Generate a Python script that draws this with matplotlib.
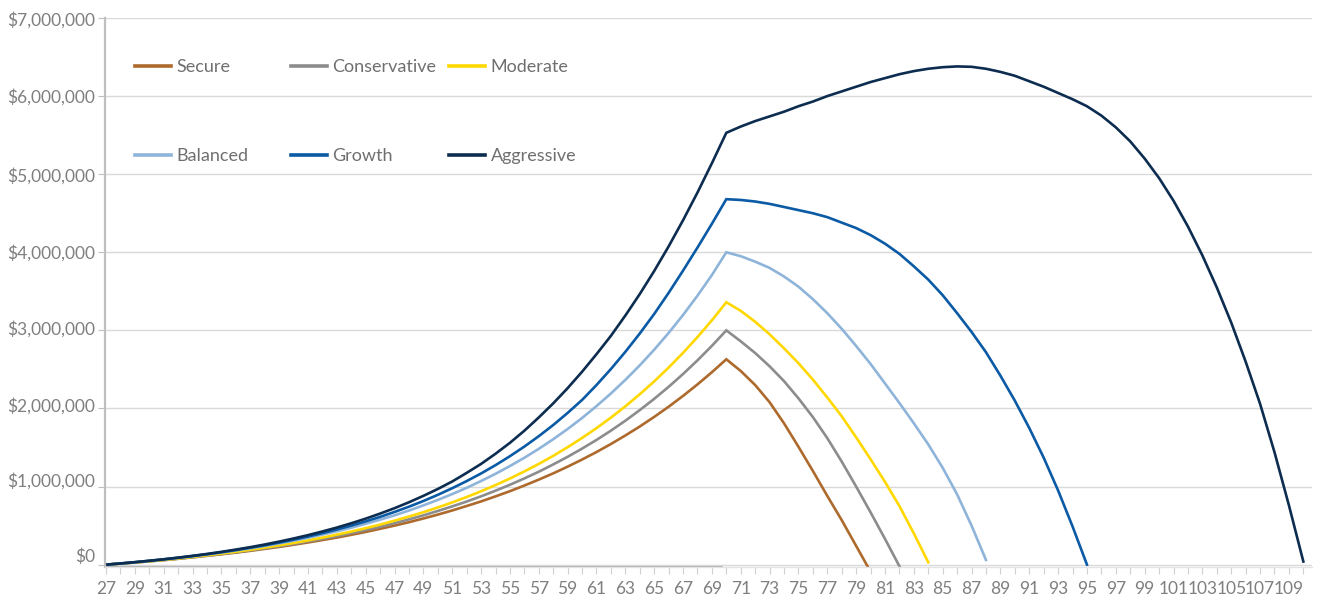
import matplotlib
matplotlib.use("Agg")
import matplotlib.pyplot as plt
from matplotlib.ticker import FuncFormatter
from matplotlib.legend import Legend
from matplotlib.transforms import ScaledTranslation
import numpy as np

plt.rcParams['font.family'] = ['Lato', 'DejaVu Sans']

# ages on the category axis
ages = list(range(27, 111))
retire_age = 70

# portfolio value by age, in $ thousands (series stop once money runs out)
secure = [0, 13, 27, 43, 58, 75, 93, 113, 133, 154, 177, 202, 227, 255, 284, 315,
          347, 382, 419, 459, 500, 544, 591, 641, 694, 751, 810, 874, 941, 1013,
          1089, 1169, 1255, 1346, 1442, 1545, 1654, 1769, 1892, 2022, 2161, 2308,
          2464, 2630,
          2480, 2300, 2080, 1810, 1510, 1200, 880, 570, 240, -90]
conservative = [0, 14, 28, 43, 60, 77, 96, 116, 137, 159, 183, 209, 236, 265, 297,
                330, 365, 403, 443, 485, 531, 580, 631, 687, 746, 808, 875, 947,
                1023, 1104, 1190, 1283, 1381, 1486, 1597, 1716, 1843, 1979, 2123,
                2277, 2441, 2616, 2802, 3000,
                2860, 2710, 2540, 2350, 2130, 1890, 1620, 1320, 1000, 670, 330, -20]
moderate = [0, 14, 29, 44, 61, 79, 99, 120, 142, 165, 191, 218, 247, 277, 310, 346,
            384, 424, 467, 513, 563, 616, 672, 732, 797, 866, 940, 1019, 1103,
            1194, 1290, 1393, 1504, 1622, 1748, 1883, 2027, 2182, 2347, 2523, 2712,
            2914, 3129, 3360,
            3250, 3110, 2950, 2770, 2580, 2370, 2140, 1900, 1630, 1350, 1060, 750,
            400, 30]
balanced = [0, 15, 31, 48, 67, 87, 108, 131, 155, 182, 210, 240, 273, 307, 345, 385,
            427, 473, 523, 576, 632, 693, 759, 829, 904, 984, 1071, 1163, 1263, 1369,
            1483, 1606, 1737, 1878, 2030, 2192, 2366, 2552, 2752, 2967, 3197, 3444,
            3709, 4000,
            3950, 3880, 3800, 3690, 3560, 3400, 3220, 3020, 2800, 2570, 2320, 2070,
            1810, 1540, 1240, 900, 500, 60]
growth = [0, 15, 31, 49, 68, 88, 110, 134, 159, 187, 217, 248, 283, 320, 360, 403,
          450, 500, 554, 612, 675, 742, 815, 894, 979, 1070, 1168, 1274, 1389, 1512,
          1645, 1788, 1943, 2109, 2300, 2505, 2725, 2960, 3210, 3480, 3765, 4060,
          4365, 4680,
          4670, 4650, 4620, 4580, 4540, 4500, 4450, 4380, 4310, 4220, 4110, 3980,
          3820, 3650, 3450, 3220, 2980, 2720, 2420, 2100, 1750, 1370, 950, 490, 0]
aggressive = [0, 15, 32, 50, 69, 90, 113, 137, 164, 193, 224, 258, 295, 335, 378,
              425, 475, 530, 589, 654, 723, 799, 881, 969, 1065, 1175, 1290, 1420,
              1560, 1715, 1885, 2065, 2260, 2470, 2695, 2930, 3190, 3465, 3760, 4075,
              4410, 4765, 5140, 5530,
              5610, 5680, 5740, 5800, 5870, 5930, 6000, 6060, 6120, 6180, 6230, 6280,
              6320, 6350, 6370, 6380, 6375, 6350, 6310, 6260, 6190, 6120, 6040, 5960,
              5870, 5750, 5600, 5420, 5200, 4950, 4660, 4330, 3960, 3550, 3100, 2600,
              2060, 1440, 760, 40]

names = ['Secure', 'Conservative', 'Moderate', 'Balanced', 'Growth', 'Aggressive']
series = [secure, conservative, moderate, balanced, growth, aggressive]
colors = ['#ad6a2c', '#8c8c8c', '#ffd800', '#8fb4da', '#0a5aa5', '#0c2c50']

fig = plt.figure(figsize=(13.22, 5.96), dpi=100)
ax = fig.add_axes([105 / 1322, 1 - 567 / 596, 1207 / 1322, 549 / 596])

lines = {}
for name, vals, col in zip(names, series, colors):
    v = np.array(vals) * 1000.0
    ln, = ax.plot(ages[:len(v)], v, color=col, lw=1.9, solid_joinstyle='miter')
    lines[name] = ln

x0, x1 = 26.93, 110.6
y0 = -30000
ax.set_xlim(x0, x1)
ax.set_ylim(y0, 7000000)

# y axis
ax.set_yticks(np.arange(0, 7000001, 1000000))
ax.yaxis.set_major_formatter(FuncFormatter(lambda v, p: '${:,.0f}'.format(v)))
ax.grid(axis='y', color='#d9d9d9', lw=1)
ax.set_axisbelow(True)
ax.tick_params(axis='y', length=5, color='#bfbfbf', labelsize=12.5,
               labelcolor='#7f7f7f', pad=2)
# the lower value labels sit a little above their grid lines in the original
lift = [9, 7, 4, 3, 1, 0, 0, -1]
for lab, d in zip(ax.get_yticklabels(), lift):
    lab.set_transform(lab.get_transform() + ScaledTranslation(0, d / 100, fig.dpi_scale_trans))

# x axis, one tick per year, label every other
ax.set_xticks(ages)
ax.set_xticklabels([str(a) if (a - 27) % 2 == 0 else '' for a in ages])
ax.tick_params(axis='x', length=5, color='#d0d0d0', labelsize=12.5,
               labelcolor='#7f7f7f', pad=5)

for s in ['top', 'right']:
    ax.spines[s].set_visible(False)
ax.spines['left'].set_color('#bfbfbf')
ax.spines['left'].set_linewidth(1.6)
ax.spines['bottom'].set_color('#e3e3e3')
ax.spines['bottom'].set_linewidth(1)
# darker stretch of the base line through the saving years
ax.axhline(y0, xmin=0, xmax=(retire_age - 0.3 - x0) / (x1 - x0),
           color='#a6a6a6', lw=1.3, clip_on=False)

# legend: three columns, two rows
cols = [('Secure', 'Balanced'), ('Conservative', 'Growth'), ('Moderate', 'Aggressive')]
col_x = [(135 - 105) / 1207, (291 - 105) / 1207, (449 - 105) / 1207]
for cx, pair in zip(col_x, cols):
    leg = Legend(ax, [lines[n] for n in pair], pair, loc='upper left',
                 bbox_to_anchor=(cx, 0.925), frameon=False, fontsize=13,
                 handlelength=2.0, handletextpad=0.3, labelspacing=4.05,
                 borderpad=0, borderaxespad=0, labelcolor='#6f6f6f')
    for h in leg.legend_handles:
        h.set_linewidth(2.6)
    ax.add_artist(leg)

fig.savefig('out.png', dpi=100)
